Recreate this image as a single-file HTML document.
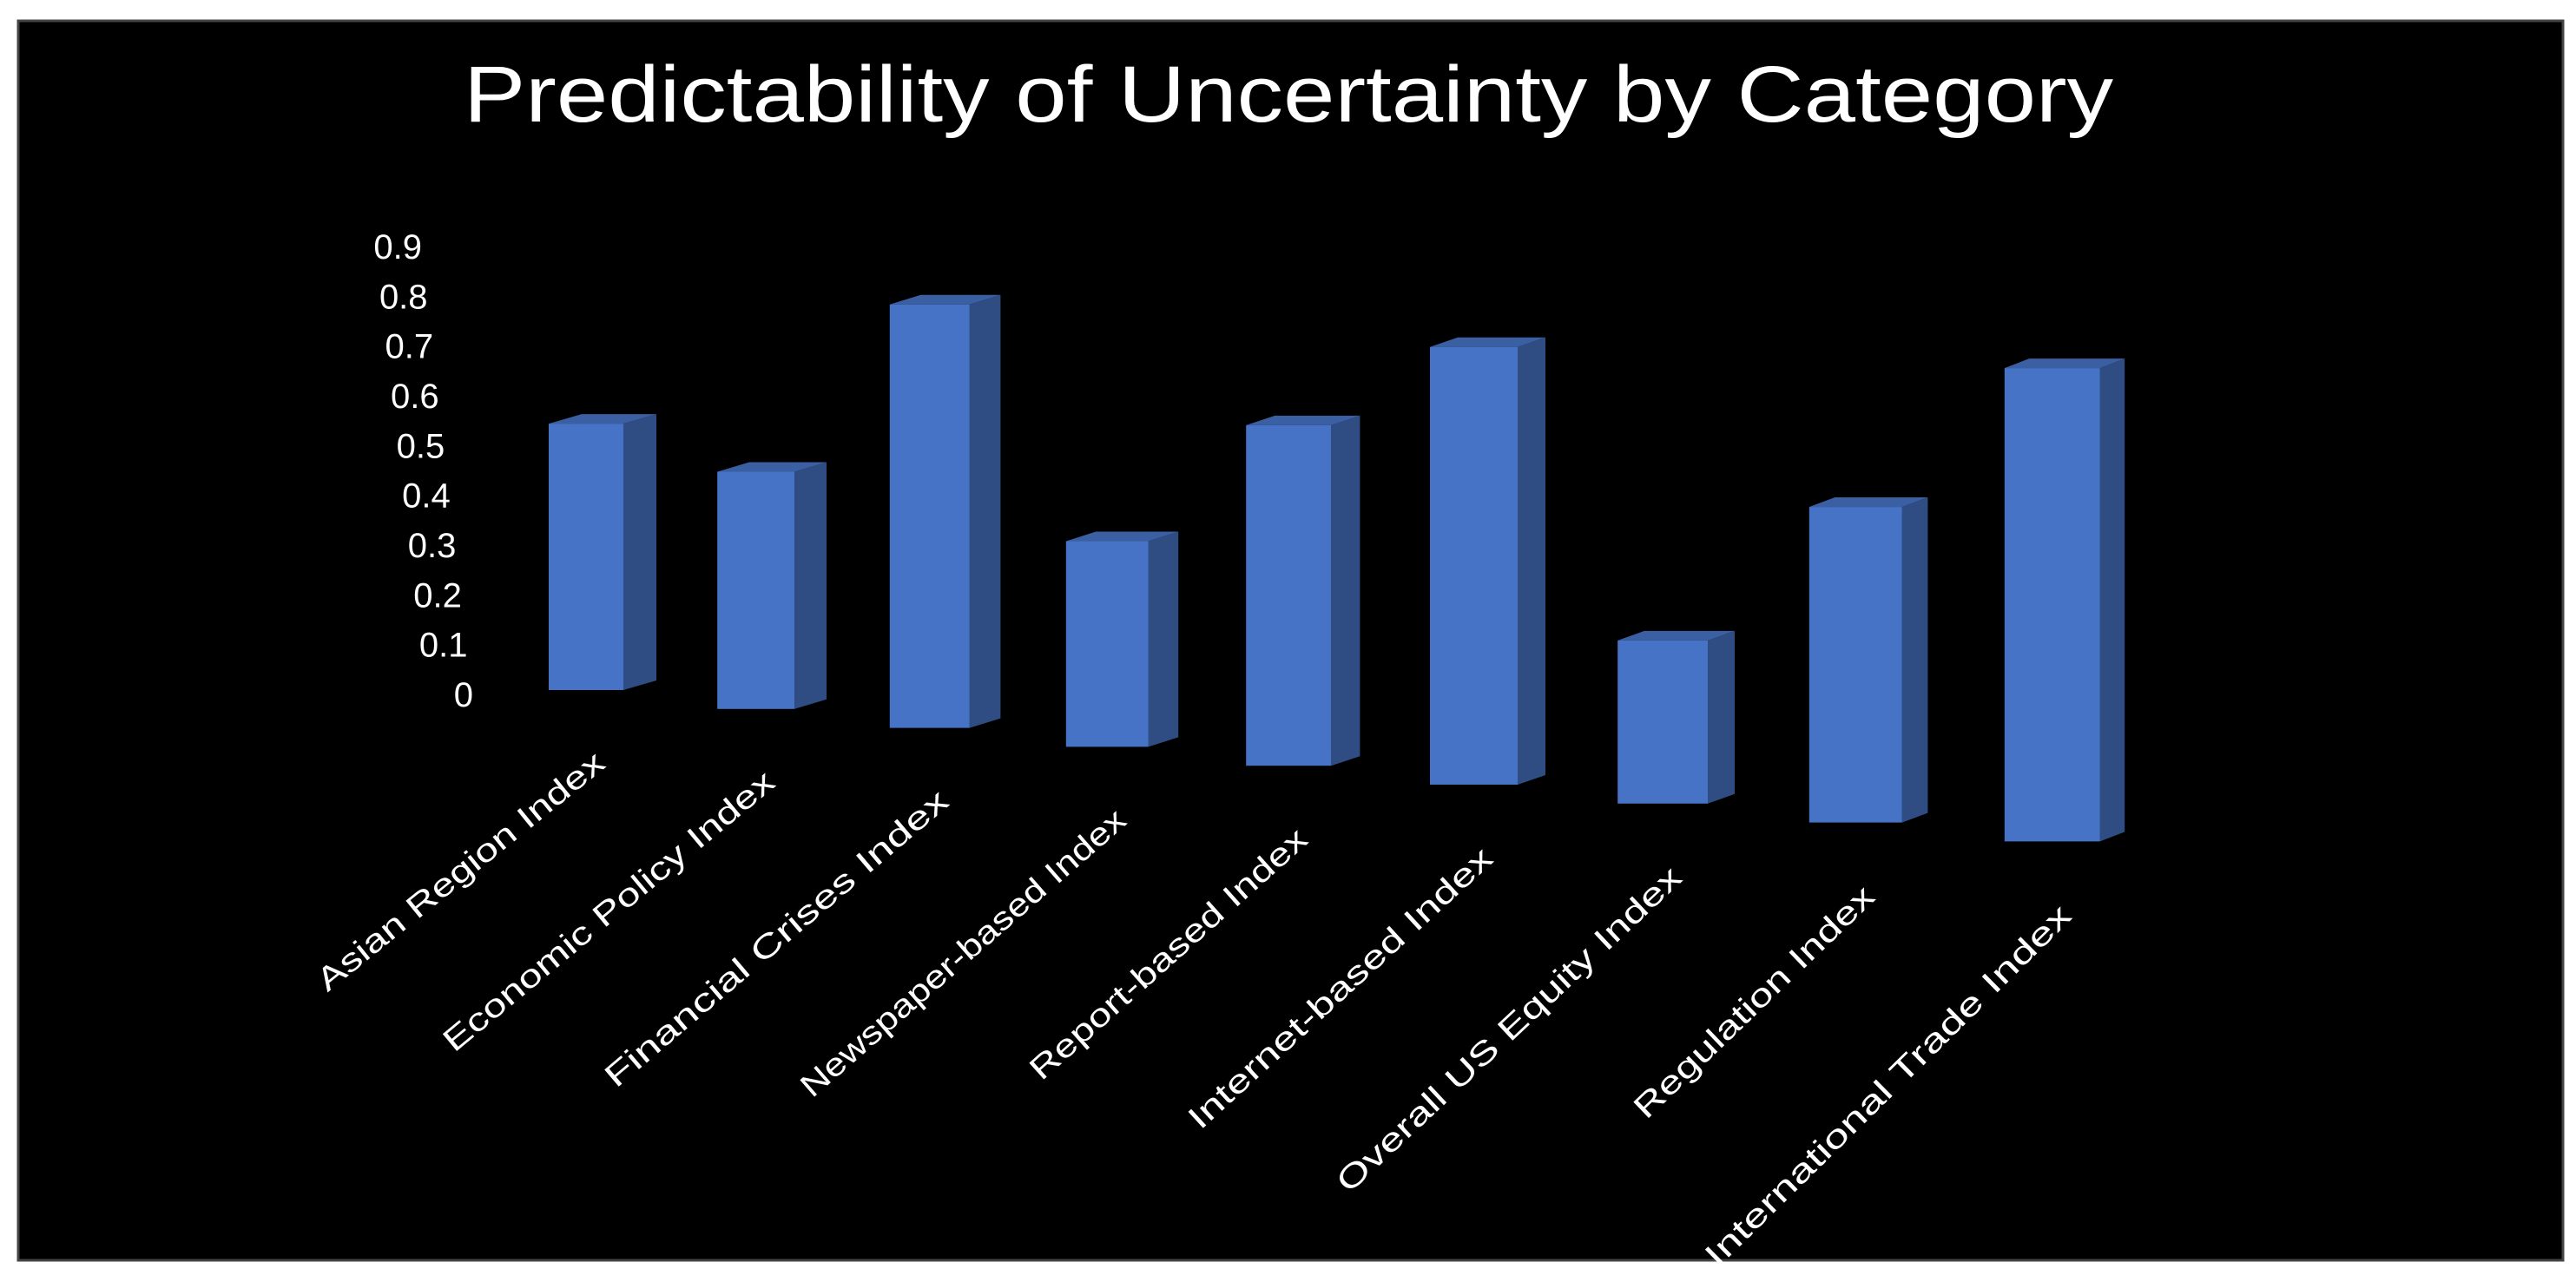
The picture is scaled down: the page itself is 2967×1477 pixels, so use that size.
<!DOCTYPE html>
<html><head><meta charset="utf-8"><style>
html,body{margin:0;padding:0;background:#fff;}
svg{display:block;}
text{font-family:"Liberation Sans",sans-serif;fill:#fff;}
</style></head><body>
<svg id="chart" width="2967" height="1477" viewBox="0 0 2967 1477" xmlns="http://www.w3.org/2000/svg">
<rect x="0" y="0" width="2967" height="1477" fill="#fff"/>
<rect x="21" y="24" width="2931" height="1428" fill="#000" stroke="#444" stroke-width="3"/>
<text x="1484" y="140" font-size="92" text-anchor="middle" textLength="1900" lengthAdjust="spacingAndGlyphs">Predictability of Uncertainty by Category</text>
<g id="yaxis"></g>
<g id="bars"></g>
<g id="xaxis"></g>
</svg>
<script>
const categories = ["Asian Region Index","Economic Policy Index","Financial Crises Index","Newspaper-based Index","Report-based Index","Internet-based Index","Overall US Equity Index","Regulation Index","International Trade Index"];
const values = [0.55,0.48,0.84,0.40,0.65,0.82,0.30,0.57,0.84];
const yTicks = [0,0.1,0.2,0.3,0.4,0.5,0.6,0.7,0.8,0.9];
const yTickLabels = ["0","0.1","0.2","0.3","0.4","0.5","0.6","0.7","0.8","0.9"];

const NS = "http://www.w3.org/2000/svg";
function el(tag, attrs, parent){const e=document.createElementNS(NS,tag);for(const k in attrs)e.setAttribute(k,attrs[k]);parent.appendChild(e);return e;}
function xLeft(i){return 632 + 192*i + 2.2*i*i;}
function barW(i){return 86 + 3*i;}
function baseY(i){return 795 + 21.8*i;}
function scaleK(i){return 558 + 11.4*i;}
function sideDx(i){return 38 - 1.2*i;}
function yTickPos(v){return 800 - v/0.9*516;}
function yTickRight(v){return 545 - v/0.9*59;}

const ya = document.getElementById('yaxis');
yTicks.forEach((v,j)=>{
  const t = el('text',{x:yTickRight(v),y:yTickPos(v)+14,'font-size':40,'text-anchor':'end'},ya);
  
  
  t.textContent = yTickLabels[j];
});

const bg = document.getElementById('bars');
const dy = -11;
values.forEach((v,i)=>{
  const x0 = xLeft(i), w = barW(i), yb = baseY(i), h = v*scaleK(i), dx = sideDx(i);
  const yt = yb - h;
  const g = el('g',{},bg);
  
  
  const side = el('polygon',{points:`${x0+w},${yt} ${x0+w+dx},${yt+dy} ${x0+w+dx},${yb+dy} ${x0+w},${yb}`,fill:'#2F4D82'},g);
  
  
  const top = el('polygon',{points:`${x0},${yt} ${x0+dx},${yt+dy} ${x0+w+dx},${yt+dy} ${x0+w},${yt}`,fill:'#3B5FA3'},g);
  
  
  const front = el('rect',{x:x0,y:yt,width:w,height:h,fill:'#4673C5'},g);
  
  
});

const xa = document.getElementById('xaxis');
categories.forEach((c,i)=>{
  const cx = xLeft(i) + barW(i)/2 + 24, cy = baseY(i) + 88;
  const t = el('text',{x:cx,y:cy,'font-size':37,'text-anchor':'end',transform:`rotate(-${39+0.7*i} ${cx} ${cy})`,textLength:c.length*23,lengthAdjust:'spacingAndGlyphs'},xa);
  
  
  t.textContent = c;
});
</script>
</body></html>
